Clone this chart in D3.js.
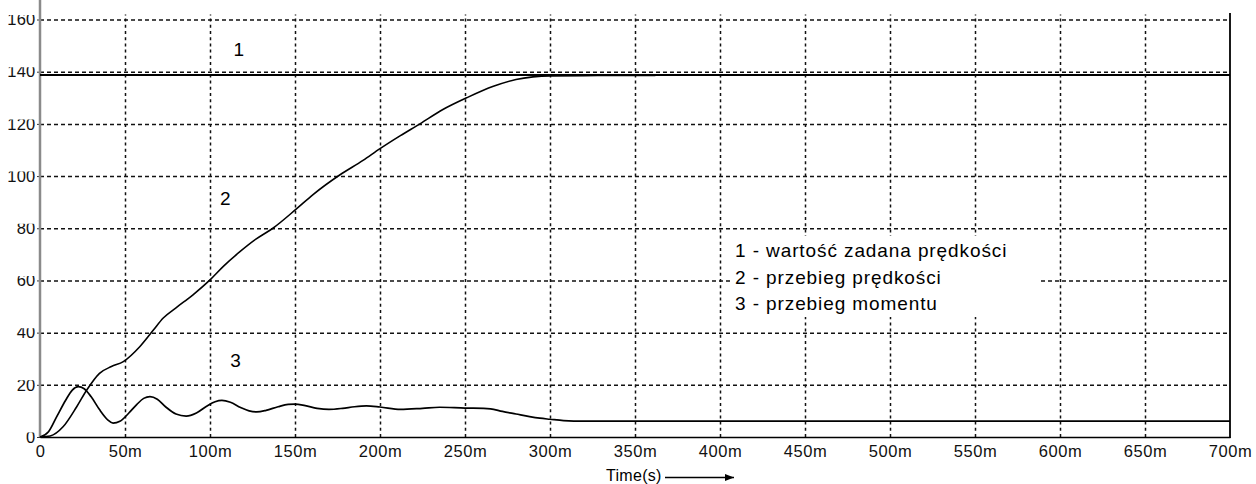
<!DOCTYPE html>
<html>
<head>
<meta charset="utf-8">
<script src="https://cdn.jsdelivr.net/npm/d3@7"></script>
<style>
  body { margin: 0; background: #fff; }
  svg { display: block; }
  text { font-family: "Liberation Sans", Arial, sans-serif; }
</style>
</head>
<body>
<svg id="chart" width="1256" height="484"></svg>
<script>
// x ticks in milliseconds, y ticks in rpm-ish units
const xTicks = [0, 50, 100, 150, 200, 250, 300, 350, 400, 450, 500, 550, 600, 650, 700];
const xTickLabels = ["0", "50m", "100m", "150m", "200m", "250m", "300m", "350m", "400m", "450m", "500m", "550m", "600m", "650m", "700m"];
const yTicks = [0, 20, 40, 60, 80, 100, 120, 140, 160];

// curve 1 - set speed
const setTime = [0, 700];
const setSpeed = [138.7, 138.7];

// curve 2 - speed
const speedTime = [0, 6, 13.7, 21.6, 27.5, 35, 42, 49, 58.8, 66.7, 72.5, 80, 90, 100, 108, 117.6, 127, 137, 151, 160.8, 176.5, 190, 200, 212, 223.5, 237, 251, 266.7, 280, 290, 300, 320, 340, 362];
const speedVal = [0, 0.4, 4, 11.6, 18, 24.4, 27, 28.9, 34.7, 41, 45.6, 49.5, 54.5, 60.2, 65.5, 71, 75.8, 80, 87.5, 93, 100.5, 106, 110.5, 115.5, 120, 125.5, 130, 134.4, 137, 138, 138.4, 138.5, 138.6, 138.6];

// curve 3 - torque
const torqueTime = [0, 5, 10, 15, 19, 22.5, 26, 30, 35, 40, 43, 47, 52, 57, 61, 64.7, 69, 74, 80, 86, 92, 98, 103, 107, 112, 118, 123, 127.5, 133, 140, 146, 150, 156, 163, 170, 178, 185, 192, 200, 212, 225, 235, 250, 261, 265, 272, 280, 288, 294, 300, 308, 320, 400, 500, 600, 700];
const torqueVal = [0, 2, 8, 14, 18, 19.3, 18.5, 15.5, 10.5, 6.5, 5.3, 6, 9, 12.5, 14.8, 15.5, 14.5, 11.5, 8.8, 8, 9.2, 11.8, 13.5, 14, 13.3, 11.3, 10, 9.6, 10.2, 11.6, 12.5, 12.6, 12, 11, 10.6, 11, 11.6, 11.9, 11.5, 10.6, 11, 11.4, 11.1, 11, 10.8, 9.8, 8.8, 7.8, 7.2, 6.8, 6.3, 6.1, 6.1, 6.1, 6.1, 6.1];

const curveLabels = [
  { text: "1", t: 117, v: 146 },
  { text: "2", t: 109, v: 89 },
  { text: "3", t: 115, v: 27 }
];
const legendLines = ["1 - wartość zadana prędkości", "2 - przebieg prędkości", "3 - przebieg momentu"];

const margin = { top: 19.5, right: 26, bottom: 47, left: 40 };
const width = 1256 - margin.left - margin.right;
const height = 484 - margin.top - margin.bottom;

const svg = d3.select("#chart");

svg.append("defs").append("clipPath").attr("id", "topcut")
  .append("rect").attr("x", -margin.left).attr("y", -5).attr("width", 1256).attr("height", 484);
svg.select("defs").append("marker")
  .attr("id", "arrow")
  .attr("viewBox", "0 0 10 10")
  .attr("refX", 10).attr("refY", 5)
  .attr("markerWidth", 7).attr("markerHeight", 7)
  .attr("orient", "auto")
  .append("path").attr("d", "M0,1 L10,5 L0,9 Z").attr("fill", "#000");

const g = svg.append("g").attr("transform", `translate(${margin.left},${margin.top})`);

const x = d3.scaleLinear().domain([0, 700]).range([0, width]);
const y = d3.scaleLinear().domain([0, 160]).range([height, 0]);

// grid
const gridX = g.append("g").attr("class", "grid-x")
  .attr("transform", `translate(0,${height})`)
  .call(d3.axisBottom(x).tickValues(xTicks.slice(1, -1)).tickSize(-height - 5).tickFormat(""));
gridX.select(".domain").remove();
gridX.selectAll("line").attr("stroke", "#111").attr("stroke-width", 1.5).attr("stroke-dasharray", "3,3.2");

const gridY = g.append("g").attr("class", "grid-y")
  .call(d3.axisLeft(y).tickValues(yTicks.slice(1)).tickSize(-width).tickFormat(""));
gridY.select(".domain").remove();
gridY.selectAll("line").attr("stroke", "#111").attr("stroke-width", 1.5).attr("stroke-dasharray", "4,3");

// axes
const xAxis = g.append("g")
  .attr("transform", `translate(0,${height})`)
  .call(d3.axisBottom(x).tickValues(xTicks).tickFormat((d, i) => xTickLabels[i]).tickSize(3).tickSizeOuter(0).tickPadding(5));
xAxis.select(".domain").attr("stroke", "#000").attr("stroke-width", 1.6);
xAxis.selectAll("line").remove();
xAxis.selectAll("text").attr("font-size", 16.5).attr("fill", "#111").attr("letter-spacing", 0.5);

const yAxis = g.append("g")
  .call(d3.axisLeft(y).tickValues(yTicks).tickSize(3).tickSizeOuter(0).tickPadding(1.5));
yAxis.select(".domain").remove();
yAxis.selectAll("line").attr("stroke", "#333");
yAxis.selectAll("text").attr("font-size", 16.5).attr("fill", "#111").attr("letter-spacing", 0.2)
  .attr("clip-path", "url(#topcut)");

// y axis line (grey, runs to the top edge) and right border
g.append("line").attr("x1", 0).attr("x2", 0).attr("y1", -margin.top).attr("y2", height)
  .attr("stroke", "#8a8a8a").attr("stroke-width", 2.5);
g.append("line").attr("x1", width).attr("x2", width).attr("y1", -6.5).attr("y2", height + 1)
  .attr("stroke", "#000").attr("stroke-width", 1.8);

// curves
const line = d3.line().x(d => x(d[0])).y(d => y(d[1])).curve(d3.curveMonotoneX);
const series = [
  { t: setTime, v: setSpeed, w: 2 },
  { t: speedTime, v: speedVal, w: 1.6 },
  { t: torqueTime, v: torqueVal, w: 1.7 }
];
series.forEach(s => {
  g.append("path")
    .datum(s.t.map((t, i) => [t, s.v[i]]))
    .attr("d", line)
    .attr("fill", "none")
    .attr("stroke", "#000")
    .attr("stroke-width", s.w);
});

// curve numbers
g.selectAll(".clabel").data(curveLabels).enter().append("text")
  .attr("class", "clabel")
  .attr("x", d => x(d.t)).attr("y", d => y(d.v))
  .attr("text-anchor", "middle")
  .attr("font-size", 19)
  .text(d => d.text);

// legend, on a white box that hides the grid behind it
g.append("rect").attr("x", 693).attr("y", 216.5).attr("width", 306).attr("height", 81).attr("fill", "#fff");
g.selectAll(".legend").data(legendLines).enter().append("text")
  .attr("class", "legend")
  .attr("x", 695).attr("y", (d, i) => 237.5 + i * 26.5)
  .attr("font-size", 19).attr("letter-spacing", 0.9)
  .text(d => d);

// axis title with arrow
svg.append("text").attr("x", 606).attr("y", 481)
  .attr("font-size", 16).attr("letter-spacing", 0.3).text("Time(s)");
svg.append("line").attr("x1", 665).attr("x2", 734).attr("y1", 477.5).attr("y2", 477.5)
  .attr("stroke", "#000").attr("stroke-width", 1.3).attr("marker-end", "url(#arrow)");
</script>
</body>
</html>
